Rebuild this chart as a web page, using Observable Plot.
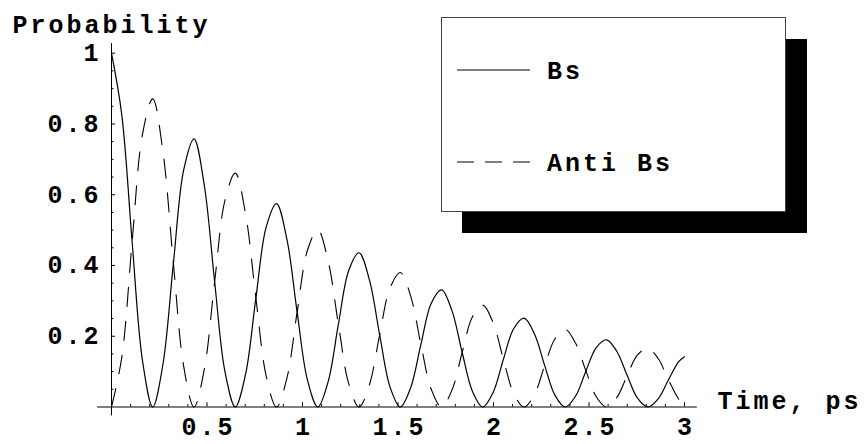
<!DOCTYPE html>
<html>
<head>
<meta charset="utf-8">
<script src="https://cdn.jsdelivr.net/npm/d3@7"></script>
<script src="https://cdn.jsdelivr.net/npm/@observablehq/plot@0.6"></script>
<style>
  html, body { margin: 0; padding: 0; background: #fff; }
  svg text { letter-spacing: 3px; }
</style>
</head>
<body>
<div id="chart"></div>
<script>
// Time (ps) sample points
const times = [0, 0.054, 0.108, 0.162, 0.216, 0.27, 0.324, 0.378, 0.432, 0.486, 0.54, 0.594, 0.648, 0.702, 0.756, 0.81,
  0.864, 0.918, 0.972, 1.026, 1.08, 1.134, 1.188, 1.242, 1.296, 1.35, 1.404, 1.458, 1.512, 1.566, 1.62, 1.674,
  1.728, 1.782, 1.836, 1.89, 1.944, 1.998, 2.052, 2.106, 2.16, 2.214, 2.268, 2.322, 2.376, 2.43, 2.484, 2.538,
  2.592, 2.646, 2.7, 2.754, 2.808, 2.862, 2.916, 2.97, 3.0];
// Bs probability (solid)
const bs = [1.000, 0.825, 0.467, 0.132, 0.000, 0.123, 0.406, 0.670,
  0.758, 0.626, 0.354, 0.100, 0.000, 0.093, 0.308, 0.509,
  0.575, 0.475, 0.268, 0.076, 0.000, 0.071, 0.234, 0.386,
  0.436, 0.360, 0.204, 0.057, 0.000, 0.054, 0.177, 0.293,
  0.331, 0.273, 0.154, 0.044, 0.000, 0.041, 0.135, 0.222,
  0.251, 0.207, 0.117, 0.033, 0.000, 0.031, 0.102, 0.168,
  0.190, 0.157, 0.089, 0.025, 0.000, 0.023, 0.077, 0.128, 0.142];
// Anti Bs probability (dashed)
const antiBs = [0.000, 0.141, 0.467, 0.770, 0.871, 0.718, 0.406, 0.115,
  0.000, 0.107, 0.354, 0.584, 0.661, 0.545, 0.308, 0.087,
  0.000, 0.081, 0.268, 0.443, 0.501, 0.413, 0.234, 0.066,
  0.000, 0.062, 0.204, 0.336, 0.380, 0.314, 0.177, 0.050,
  0.000, 0.047, 0.154, 0.255, 0.288, 0.238, 0.135, 0.038,
  0.000, 0.035, 0.117, 0.193, 0.219, 0.180, 0.102, 0.029,
  0.000, 0.027, 0.089, 0.147, 0.166, 0.137, 0.077, 0.022, 0.004];

const seriesNames = ["Bs", "Anti Bs"];
const xTitle = "Time, ps";
const yTitle = "Probability";
const xMajor = [0.5, 1, 1.5, 2, 2.5, 3];
const yMajor = [0.2, 0.4, 0.6, 0.8, 1];
const xMinor = [0.1, 0.2, 0.3, 0.4, 0.6, 0.7, 0.8, 0.9, 1.1, 1.2, 1.3, 1.4, 1.6, 1.7, 1.8, 1.9,
  2.1, 2.2, 2.3, 2.4, 2.6, 2.7, 2.8, 2.9];
const yMinor = [0.05, 0.1, 0.15, 0.25, 0.3, 0.35, 0.45, 0.5, 0.55, 0.65, 0.7, 0.75, 0.85, 0.9, 0.95];

const bsRows = times.map((t, i) => ({t, p: bs[i]}));
const antiRows = times.map((t, i) => ({t, p: antiBs[i]}));

const FONT = "Liberation Mono, DejaVu Sans Mono, monospace";
const FS = 25;

const chart = Plot.plot({
  width: 864,
  height: 444,
  marginLeft: 111,
  marginRight: 180,
  marginTop: 52.7,
  marginBottom: 37.5,
  style: {fontFamily: FONT, fontSize: FS + "px", fontWeight: "bold", background: "#fff", color: "#000", overflow: "visible"},
  x: {domain: [0, 3], axis: null},
  y: {domain: [0, 1], axis: null},
  marks: [
    // axis lines
    Plot.ruleY([0], {x1: -0.073, x2: 3.067, stroke: "#000", strokeWidth: 1}),
    Plot.ruleX([0], {y1: -0.025, y2: 1.027, stroke: "#000", strokeWidth: 1}),
    // ticks
    Plot.ruleX(xMajor, {y1: 0, y2: 0.012, stroke: "#000", strokeWidth: 1}),
    Plot.ruleX(xMinor, {y1: 0, y2: 0.007, stroke: "#000", strokeWidth: 1}),
    Plot.ruleY(yMajor, {x1: 0, x2: 0.021, stroke: "#000", strokeWidth: 1}),
    Plot.ruleY(yMinor, {x1: 0, x2: 0.013, stroke: "#000", strokeWidth: 1}),
    // tick labels
    Plot.text(xMajor, {x: d => d, y: 0, dy: 20, dx: 1.5, text: d => String(d), textAnchor: "middle", fontWeight: "bold", fontSize: FS}),
    Plot.text(yMajor, {x: 0, y: d => d, dx: -10, text: d => String(d), textAnchor: "end", fontWeight: "bold", fontSize: FS}),
    // axis titles
    Plot.text([yTitle], {frameAnchor: "top-left", dx: -99, dy: -38, text: d => d, textAnchor: "start", fontWeight: "bold", fontSize: FS}),
    Plot.text([xTitle], {frameAnchor: "bottom-right", dx: 33, dy: 1.5, text: d => d, textAnchor: "start", fontWeight: "bold", fontSize: FS}),
    // curves
    Plot.line(antiRows, {x: "t", y: "p", curve: "catmull-rom", stroke: "#000", strokeWidth: 1.1, strokeDasharray: "19,15"}),
    Plot.line(bsRows, {x: "t", y: "p", curve: "catmull-rom", stroke: "#000", strokeWidth: 1.2})
  ]
});

document.getElementById("chart").appendChild(chart);

// Legend box with drop shadow (pixel layout)
const svg = d3.select(chart);
const lg = svg.append("g").attr("font-family", FONT).attr("font-weight", "bold").attr("font-size", FS).attr("text-anchor", "start");
lg.append("rect").attr("x", 462).attr("y", 39).attr("width", 345).attr("height", 194).attr("fill", "#000");
lg.append("rect").attr("x", 441.5).attr("y", 17.5).attr("width", 344).attr("height", 194).attr("fill", "#fff").attr("stroke", "#444").attr("stroke-width", 1);
const entries = [{name: seriesNames[0], y: 70, dash: null}, {name: seriesNames[1], y: 162, dash: "17,11"}];
for (const e of entries) {
  const ln = lg.append("line").attr("x1", 457).attr("x2", 530).attr("y1", e.y).attr("y2", e.y)
    .attr("stroke", "#000").attr("stroke-width", 1.2);
  if (e.dash) ln.attr("stroke-dasharray", e.dash);
  lg.append("text").attr("x", 547).attr("y", e.y + 0.5).attr("dy", "0.32em")
    .attr("text-anchor", "start").attr("fill", "#000").text(e.name);
}
</script>
</body>
</html>
